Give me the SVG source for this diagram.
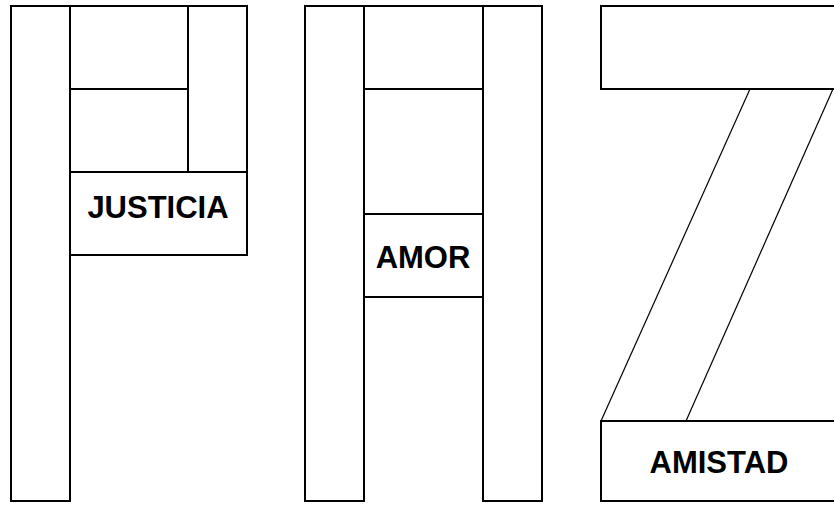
<svg xmlns="http://www.w3.org/2000/svg" width="834" height="505" viewBox="0 0 834 505">
<style>
.b{fill:none;stroke:#000;stroke-width:2}
.d{fill:none;stroke:#000;stroke-width:1.2}
.t{font-family:"Liberation Sans",Arial,sans-serif;font-weight:bold;font-size:31px;fill:#000;text-anchor:middle}
</style>
<rect width="834" height="505" fill="#fff"/>
<g id="letter-p">
<rect class="b" x="11" y="6" width="59" height="495"/>
<path class="b" d="M70 6H247V255H70"/>
<path class="b" d="M188 6V172M70 89H189M70 172H247"/>
<text class="t" x="158" y="218">JUSTICIA</text>
</g>
<g id="letter-a">
<rect class="b" x="305" y="6" width="59" height="495"/>
<rect class="b" x="483" y="6" width="59" height="495"/>
<path class="b" d="M364 6H483M364 89H484M364 214H484M364 297H484"/>
<text class="t" x="423" y="268">AMOR</text>
</g>
<g id="letter-z">
<rect class="b" x="601" y="6" width="240" height="83"/>
<rect class="b" x="601" y="421" width="240" height="80"/>
<text class="t" x="719" y="473">AMISTAD</text>
</g>
<g id="connectors">
<line class="d" x1="750" y1="89" x2="601" y2="421"/>
<line class="d" x1="833" y1="89" x2="686" y2="421"/>
</g>
</svg>
